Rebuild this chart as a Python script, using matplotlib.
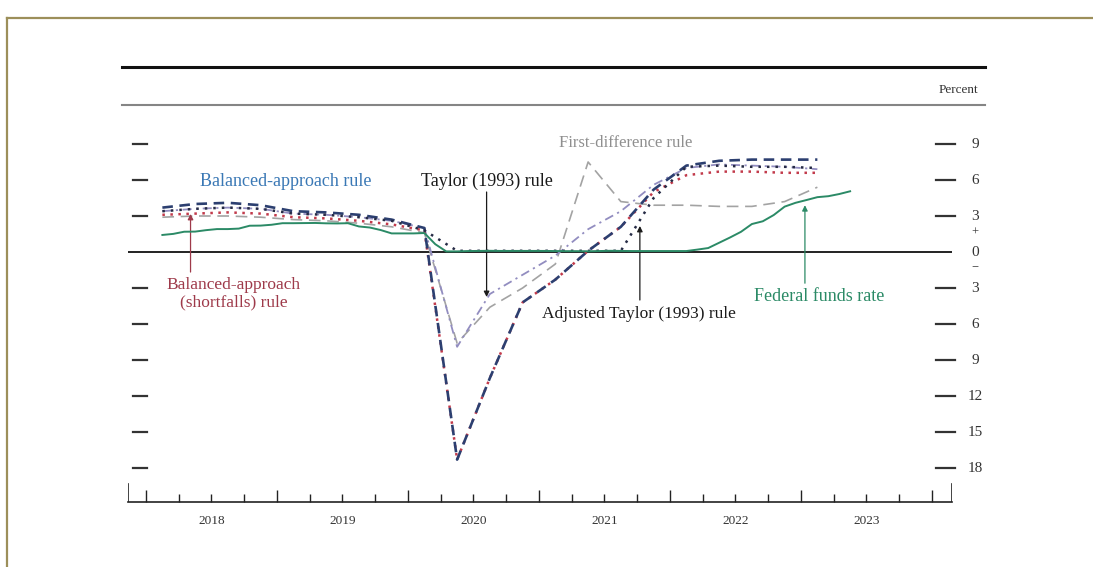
import numpy as np
import pandas as pd
import matplotlib
matplotlib.use('Agg')
import matplotlib.pyplot as plt
from matplotlib.lines import Line2D
from matplotlib.transforms import blended_transform_factory

plt.rcParams['font.family'] = ['Liberation Serif', 'DejaVu Serif']

# Data #########################################################################
quarters = pd.period_range('2018Q1', '2023Q1', freq='Q')
months = pd.period_range('2018-02', '2023-05', freq='M')

taylor = [3.4, 3.6, 3.7, 3.6, 3.2, 3.1, 2.9, 2.6, 2.0, -7.9, -3.5, -1.9, -0.3,
          1.9, 3.4, 5.6, 7.0, 7.3, 7.2, 7.1, 6.9]
balanced = [3.7, 4.0, 4.1, 3.9, 3.4, 3.3, 3.1, 2.7, 2.0, -17.3, -10.5, -4.2,
            -2.3, 0.1, 2.1, 5.2, 7.2, 7.6, 7.7, 7.7, 7.7]
shortfalls = [3.1, 3.2, 3.3, 3.2, 2.9, 2.8, 2.6, 2.3, 1.8, -17.3, -10.5, -4.2,
              -2.3, 0.1, 2.1, 5.0, 6.4, 6.7, 6.7, 6.6, 6.6]
adjusted = [3.4, 3.6, 3.7, 3.6, 3.2, 3.1, 2.9, 2.6, 1.8, 0.1, 0.1, 0.1, 0.1,
            0.1, 0.1, 4.5, 7.1, 7.2, 7.1, 7.1, 7.0]
first_diff = [2.9, 3.0, 3.0, 2.9, 2.7, 2.6, 2.4, 2.1, 1.6, -7.6, -4.6, -3.0,
              -1.0, 7.5, 4.2, 3.9, 3.9, 3.8, 3.8, 4.2, 5.4]
fed_funds = [1.42, 1.51, 1.69, 1.70, 1.82, 1.91, 1.91, 1.95, 2.19, 2.20, 2.27,
             2.40, 2.40, 2.41, 2.42, 2.39, 2.38, 2.40, 2.13, 2.04, 1.83, 1.55, 1.55,
             1.55, 1.58, 0.65, 0.05, 0.05, 0.08, 0.09, 0.10, 0.09, 0.09, 0.09, 0.09,
             0.09, 0.08, 0.07, 0.07, 0.06, 0.08, 0.10, 0.09, 0.08, 0.08, 0.08, 0.08,
             0.08, 0.08, 0.20, 0.33, 0.77, 1.21, 1.68, 2.33, 2.56, 3.08, 3.78, 4.10,
             4.33, 4.57, 4.65, 4.83, 5.06]

years = [2018, 2019, 2020, 2021, 2022, 2023]
ytick_vals = [9, 6, 3, -3, -6, -9, -12, -15, -18]

tq = np.array([p.year + (p.quarter - 0.5) / 4 for p in quarters])
tm = np.array([p.year + (p.month - 0.5) / 12 for p in months])

# Figure #######################################################################
fig = plt.figure(figsize=(10.93, 5.67), dpi=100, facecolor='white')
ax = fig.add_axes([128/1093, 1-502/567, 824/1093, 397/567])
ax.set_xlim(2017.8626, 2024.1527)
ax.set_ylim(-20.833, 12.25)

# frame and header rules
olive = '#9c8f5a'
fig.add_artist(Line2D([7/1093, 1.0], [1-18/567, 1-18/567], color=olive, lw=1.6,
                      transform=fig.transFigure))
fig.add_artist(Line2D([7/1093, 7/1093], [0, 1-18/567], color=olive, lw=1.6,
                      transform=fig.transFigure))
fig.add_artist(Line2D([122/1093, 985/1093], [1-67/567, 1-67/567], color='#111111',
                      lw=2.2, transform=fig.transFigure))
fig.add_artist(Line2D([122/1093, 985/1093], [1-105/567, 1-105/567], color='#858585',
                      lw=1.5, transform=fig.transFigure))
fig.text(978/1093, 1-90/567, 'Percent', ha='right', va='center', fontsize=9.5,
         color='#333333')

# zero line
ax.axhline(0, color='#111111', lw=1.3, zorder=2)

# series
ax.plot(tq, first_diff, color='#a3a3a3', lw=1.2, dashes=(7, 4), zorder=3)
ax.plot(tq, taylor, color='#928dc0', lw=1.3, dashes=(5, 2.5, 1.2, 2.5), zorder=3)
ax.plot(tq, shortfalls, color='#c23a4b', lw=1.8, dashes=(1, 2.2), zorder=4)
ax.plot(tq, balanced, color='#2c3f70', lw=1.9, dashes=(4, 2.5), zorder=5)
ax.plot(tq, adjusted, color='#262b45', lw=1.8, dashes=(1, 2.4), zorder=5)
ax.plot(tm, fed_funds, color='#2b8a66', lw=1.4, zorder=6)

# axes styling
for s in ['top', 'left', 'right']:
    ax.spines[s].set_visible(False)
ax.spines['bottom'].set_color('#222222')
ax.spines['bottom'].set_linewidth(1.2)
ax.set_yticks([])
ax.set_xticks(years + [2024])
ax.set_xticklabels([])
ax.set_xticks([y + q for y in years for q in (0.25, 0.5, 0.75)], minor=True)
ax.tick_params(axis='x', which='major', direction='in', length=9, width=1,
               color='#222222')
ax.tick_params(axis='x', which='minor', direction='in', length=5.5, width=1,
               color='#222222')
for xe in ax.get_xlim():
    ax.axvline(xe, ymax=0.045, color='#222222', lw=1.2)

tr_x = blended_transform_factory(ax.transData, ax.transAxes)
for y in years:
    ax.text(y + 0.5, -0.047, str(y), transform=tr_x, ha='center', va='center',
            fontsize=9.5, color='#333333')

# y tick dashes and labels
tr_y = blended_transform_factory(ax.transAxes, ax.transData)
for v in ytick_vals:
    ax.plot([0.006, 0.023], [v, v], transform=tr_y, color='#333333', lw=1.6,
            clip_on=False)
    ax.plot([0.98, 1.004], [v, v], transform=tr_y, color='#333333', lw=1.6,
            clip_on=False)
    ax.text(1.028, v, str(abs(v)), transform=tr_y, ha='center', va='center',
            fontsize=11, color='#333333')
ax.text(1.028, 0, '0', transform=tr_y, ha='center', va='center', fontsize=11,
        color='#333333')
ax.text(1.028, 1.6, '+', transform=tr_y, ha='center', va='center', fontsize=9,
        color='#333333')
ax.text(1.028, -1.3, '\u2212', transform=tr_y, ha='center', va='center',
        fontsize=9, color='#333333')

# annotations
fs = 13
ax.text(2019.07, 5.9, 'Balanced-approach rule', color='#3a78b5', fontsize=fs,
        ha='center', va='center')
ax.text(2020.60, 5.9, 'Taylor (1993) rule', color='#1a1a1a', fontsize=fs,
        ha='center', va='center')
ax.text(2021.66, 9.08, 'First-difference rule', color='#8f8f8f', fontsize=12,
        ha='center', va='center')
ax.text(2018.67, -3.5, 'Balanced-approach\n(shortfalls) rule', color='#9e3a4a',
        fontsize=12.5, ha='center', va='center', linespacing=1.1)
ax.text(2021.76, -5.17, 'Adjusted Taylor (1993) rule', color='#1a1a1a',
        fontsize=12.5, ha='center', va='center')
ax.text(2023.14, -3.67, 'Federal funds rate', color='#2b8a66', fontsize=fs,
        ha='center', va='center')

arrow = dict(arrowstyle='-|>', lw=0.9, mutation_scale=8, shrinkA=0, shrinkB=0)
ax.annotate('', xy=(2020.60, -3.75), xytext=(2020.60, 5.0),
            arrowprops=dict(arrow, color='#1a1a1a'))
ax.annotate('', xy=(2018.34, 3.17), xytext=(2018.34, -1.67),
            arrowprops=dict(arrow, color='#9e3a4a'))
ax.annotate('', xy=(2021.77, 2.17), xytext=(2021.77, -4.0),
            arrowprops=dict(arrow, color='#1a1a1a'))
ax.annotate('', xy=(2023.03, 3.9), xytext=(2023.03, -2.6),
            arrowprops=dict(arrow, color='#2b8a66'))

fig.savefig('out.png', dpi=100, facecolor='white')
